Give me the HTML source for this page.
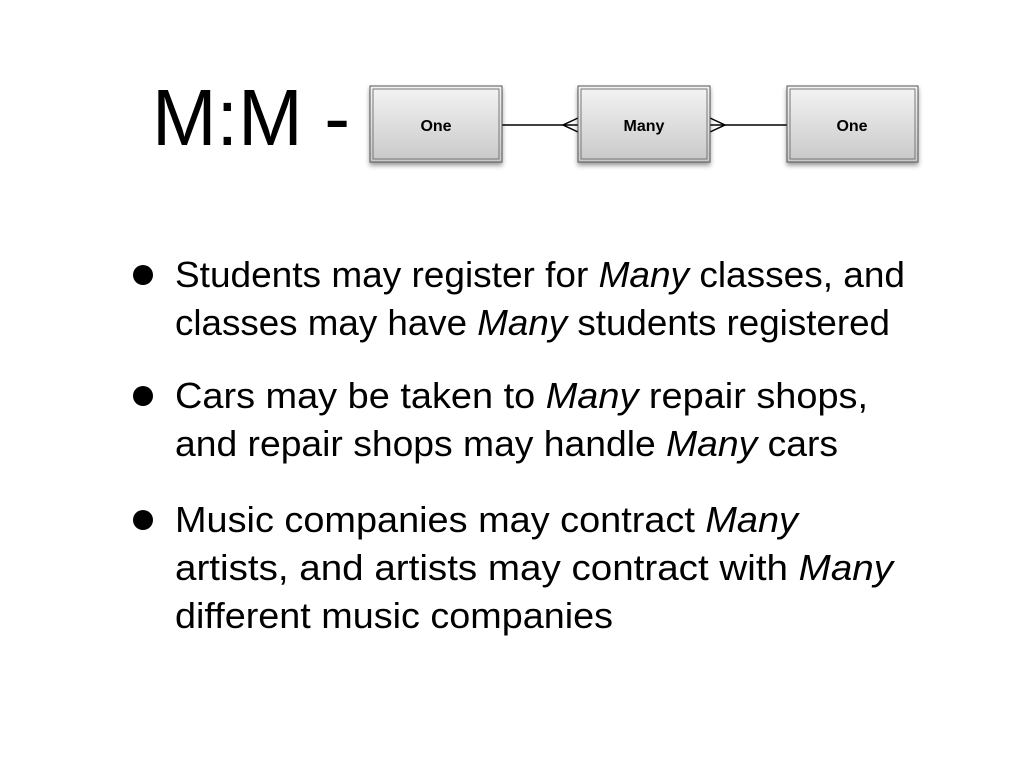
<!DOCTYPE html>
<html><head><meta charset="utf-8"><style>
html,body{margin:0;padding:0;background:#fff;}
svg{display:block;}
text{font-family:"Liberation Sans",sans-serif;fill:#000;}
</style></head><body>
<svg width="1024" height="768" viewBox="0 0 1024 768">
<defs>
<linearGradient id="g" x1="0" y1="0" x2="0" y2="1">
<stop offset="0" stop-color="#f4f4f4"/><stop offset="1" stop-color="#c8c8c8"/>
</linearGradient>
<filter id="sh" x="-10%" y="-10%" width="130%" height="140%"><feDropShadow dx="0" dy="3" stdDeviation="2.5" flood-color="#000" flood-opacity="0.4"/></filter>
</defs>
<text x="152" y="145" font-size="80" textLength="198" lengthAdjust="spacingAndGlyphs">M:M -</text>
<g>
<line x1="502" y1="125" x2="578" y2="125" stroke="#000" stroke-width="1.5"/>
<line x1="710" y1="125" x2="787" y2="125" stroke="#000" stroke-width="1.5"/>
<path d="M578 118 L563 125 L578 132" fill="none" stroke="#000" stroke-width="1.5"/>
<path d="M710 118 L725 125 L710 132" fill="none" stroke="#000" stroke-width="1.5"/>
<g filter="url(#sh)">
<rect x="370" y="86" width="132" height="76" fill="url(#g)" stroke="#555" stroke-width="1"/>
<rect x="373" y="89" width="126" height="70" fill="none" stroke="#777" stroke-width="1"/>
</g>
<text x="436" y="131" font-size="16" font-weight="bold" text-anchor="middle">One</text>
<g filter="url(#sh)">
<rect x="578" y="86" width="132" height="76" fill="url(#g)" stroke="#555" stroke-width="1"/>
<rect x="581" y="89" width="126" height="70" fill="none" stroke="#777" stroke-width="1"/>
</g>
<text x="644" y="131" font-size="16" font-weight="bold" text-anchor="middle">Many</text>
<g filter="url(#sh)">
<rect x="787" y="86" width="131" height="76" fill="url(#g)" stroke="#555" stroke-width="1"/>
<rect x="790" y="89" width="125" height="70" fill="none" stroke="#777" stroke-width="1"/>
</g>
<text x="852" y="131" font-size="16" font-weight="bold" text-anchor="middle">One</text>
</g>
<g font-size="36">
<circle cx="143" cy="275" r="10"/>
<text x="175" y="287" textLength="730" lengthAdjust="spacingAndGlyphs">Students may register for <tspan font-style="italic">Many</tspan> classes, and</text>
<text x="175" y="335" textLength="715" lengthAdjust="spacingAndGlyphs">classes may have <tspan font-style="italic">Many</tspan> students registered</text>
<circle cx="143" cy="396" r="10"/>
<text x="175" y="408" textLength="693" lengthAdjust="spacingAndGlyphs">Cars may be taken to <tspan font-style="italic">Many</tspan> repair shops,</text>
<text x="175" y="456" textLength="663" lengthAdjust="spacingAndGlyphs">and repair shops may handle <tspan font-style="italic">Many</tspan> cars</text>
<circle cx="143" cy="520" r="10"/>
<text x="175" y="532" textLength="623" lengthAdjust="spacingAndGlyphs">Music companies may contract <tspan font-style="italic">Many</tspan></text>
<text x="175" y="580" textLength="718" lengthAdjust="spacingAndGlyphs">artists, and artists may contract with <tspan font-style="italic">Many</tspan></text>
<text x="175" y="628" textLength="438" lengthAdjust="spacingAndGlyphs">different music companies</text>
</g>
</svg>
</body></html>
